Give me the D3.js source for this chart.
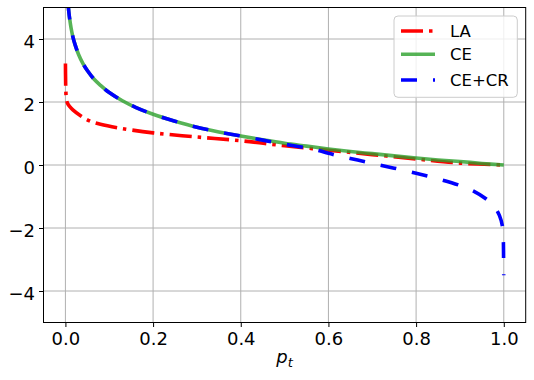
<!DOCTYPE html>
<html><head><meta charset="utf-8">
<script src="https://cdn.jsdelivr.net/npm/d3@7"></script>
<style>body{margin:0;background:#fff} svg{display:block} text{font-family:"DejaVu Sans",sans-serif;fill:#000}</style>
</head><body><svg id="c" width="534" height="380"></svg>
<script>
// ---- data ----
const xTicks = [0.0, 0.2, 0.4, 0.6, 0.8, 1.0];
const yTicks = [-4, -2, 0, 2, 4];
const seriesNames = ["LA", "CE", "CE+CR"];

const pLA = [0.00005, 0.0005, 0.001, 0.002, 0.005, 0.01, 0.017, 0.033, 0.055, 0.08, 0.124, 0.2, 0.3, 0.4, 0.5, 0.6, 0.7, 0.8, 0.9, 1.0];
const vLA = [3.22, 2.6, 2.35, 2.12, 1.95, 1.85, 1.75, 1.58, 1.4, 1.29, 1.17, 1.02, 0.89, 0.77, 0.61, 0.47, 0.33, 0.19, 0.06, 0.0];

const pCE = [0.006, 0.008, 0.01, 0.013, 0.017, 0.022, 0.03, 0.04, 0.05, 0.065, 0.08, 0.1, 0.13, 0.16, 0.2, 0.25, 0.3, 0.35, 0.4, 0.45, 0.5, 0.55, 0.6, 0.65, 0.7, 0.75, 0.8, 0.85, 0.9, 0.95, 1.0];
const vCE = [5.12, 4.83, 4.61, 4.34, 4.07, 3.82, 3.51, 3.22, 3.0, 2.73, 2.53, 2.30, 2.04, 1.83, 1.61, 1.39, 1.20, 1.05, 0.92, 0.80, 0.69, 0.60, 0.51, 0.43, 0.36, 0.29, 0.22, 0.16, 0.11, 0.05, 0.0];

const pCR = [0.006, 0.008, 0.01, 0.013, 0.017, 0.022, 0.03, 0.04, 0.05, 0.065, 0.08, 0.1, 0.13, 0.16, 0.2, 0.25, 0.3, 0.35, 0.4, 0.45, 0.5, 0.55, 0.58, 0.6, 0.65, 0.7, 0.75, 0.8, 0.85, 0.9, 0.93, 0.96, 0.98, 0.99, 0.997, 0.999, 0.9995, 0.9999];
const vCR = [5.12, 4.83, 4.61, 4.34, 4.07, 3.82, 3.51, 3.22, 3.0, 2.73, 2.53, 2.30, 2.04, 1.83, 1.61, 1.39, 1.20, 1.05, 0.92, 0.79, 0.66, 0.54, 0.45, 0.37, 0.21, 0.05, -0.1, -0.26, -0.44, -0.65, -0.82, -1.08, -1.36, -1.6, -1.95, -2.4, -2.9, -3.5];

// ---- layout ----
const svg = d3.select("#c");
const L = 43.5, R = 525.7, T = 7.5, B = 322.5;
const x = d3.scaleLinear().domain([-0.05, 1.05]).range([L, R]);
const y = d3.scaleLinear().domain([-5, 5]).range([B, T]);

svg.append("defs").append("clipPath").attr("id", "clip")
  .append("rect").attr("x", L).attr("y", T).attr("width", R - L).attr("height", B - T);

// grid
const grid = svg.append("g").attr("stroke", "#b0b0b0").attr("stroke-width", 1);
grid.selectAll(".gx").data(xTicks).join("line")
  .attr("x1", d => x(d)).attr("x2", d => x(d)).attr("y1", T).attr("y2", B);
grid.selectAll(".gy").data(yTicks).join("line")
  .attr("y1", d => y(d)).attr("y2", d => y(d)).attr("x1", L).attr("x2", R);

// lines
const mk = (ps, vs) => ps.map((p, i) => [p, vs[i]]);
const line = d3.line().x(d => x(d[0])).y(d => y(d[1])).curve(d3.curveCatmullRom.alpha(0.5));
const styles = [
  {data: mk(pLA, vLA), color: "#ff0000", dash: "22,6,3.5,6", op: 1},
  {data: mk(pCE, vCE), color: "#2ca02c", dash: null, op: 0.8},
  {data: mk(pCR, vCR), color: "#0000ff", dash: "16,16", op: 1}
];
const lg = svg.append("g").attr("clip-path", "url(#clip)");
styles.forEach(s => {
  lg.append("path").attr("d", line(s.data)).attr("fill", "none")
    .attr("stroke", s.color).attr("stroke-width", 3.6).attr("stroke-opacity", s.op)
    .attr("stroke-dasharray", s.dash).attr("stroke-linecap", "butt");
});

// axes
const fmtY = d => d < 0 ? "\u2212" + Math.abs(d) : String(d);
const ax = svg.append("g").attr("transform", `translate(0,${B})`)
  .call(d3.axisBottom(x).tickValues(xTicks).tickFormat(d3.format(".1f")).tickSize(4.5).tickSizeOuter(0));
const ay = svg.append("g").attr("transform", `translate(${L},0)`)
  .call(d3.axisLeft(y).tickValues(yTicks).tickFormat(fmtY).tickSize(4.5).tickSizeOuter(0));
[ax, ay].forEach(g => {
  g.select(".domain").remove();
  g.selectAll("line").attr("stroke", "#000").attr("stroke-width", 1);
  g.selectAll("text").attr("font-size", 18).attr("font-family", "DejaVu Sans").attr("fill", "#000");
});
ax.selectAll("text").attr("y", 22.5).attr("dy", 0);
ay.selectAll("text").attr("x", -8.5).attr("dy", "0.45em");

// spines
svg.append("rect").attr("x", L).attr("y", T).attr("width", R - L).attr("height", B - T)
  .attr("fill", "none").attr("stroke", "#000").attr("stroke-width", 1);

// x label
const xl = svg.append("text").attr("x", (L + R) / 2).attr("y", 363).attr("text-anchor", "middle")
  .attr("font-size", 18).attr("font-style", "italic");
xl.append("tspan").text("p");
xl.append("tspan").attr("font-size", 13).attr("dy", 3.5).text("t");

// legend
const leg = svg.append("g");
leg.append("rect").attr("x", 394).attr("y", 16).attr("width", 123.3).attr("height", 81.3)
  .attr("rx", 4).attr("fill", "#fff").attr("fill-opacity", 0.8).attr("stroke", "#cccccc").attr("stroke-width", 1);
const legY = [31, 54.3, 80];
styles.forEach((s, i) => {
  leg.append("line").attr("x1", 401).attr("x2", 435).attr("y1", legY[i]).attr("y2", legY[i])
    .attr("stroke", s.color).attr("stroke-width", 3.6).attr("stroke-opacity", s.op)
    .attr("stroke-dasharray", s.dash);
  leg.append("text").attr("x", 450).attr("y", legY[i]).attr("dy", "0.36em")
    .attr("font-size", 16.5).text(seriesNames[i]);
});
</script></body></html>
